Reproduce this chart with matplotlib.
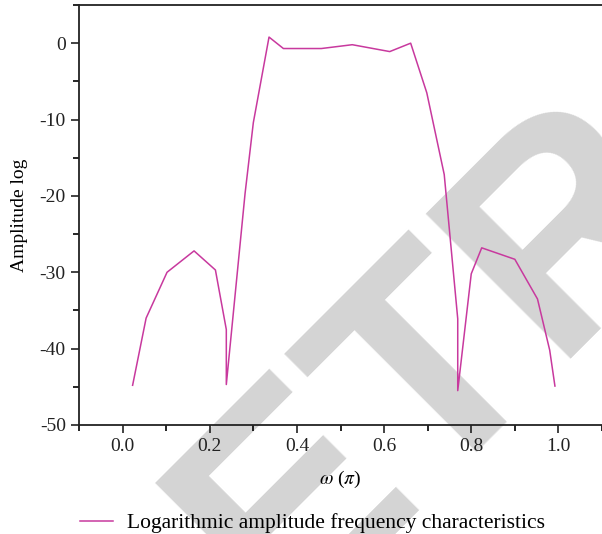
import matplotlib
matplotlib.use("Agg")
import matplotlib.pyplot as plt
from matplotlib.ticker import MultipleLocator

plt.rcParams['font.family'] = ['Liberation Serif', 'DejaVu Serif']
plt.rcParams['mathtext.fontset'] = 'stix'

# frequency (units of pi) and log amplitude
omega = [0.023, 0.054, 0.102, 0.164, 0.213, 0.238, 0.238, 0.281, 0.300,
         0.336, 0.369, 0.456, 0.527, 0.613, 0.661, 0.698, 0.738, 0.769,
         0.769, 0.800, 0.824, 0.900, 0.952, 0.980, 0.992]
amp_log = [-44.8, -36.0, -30.0, -27.2, -29.7, -37.5, -44.7, -19.7, -10.4,
           0.8, -0.7, -0.7, -0.2, -1.1, 0.0, -6.5, -17.2, -36.1,
           -45.5, -30.2, -26.8, -28.3, -33.5, -40.2, -44.9]

fig = plt.figure(figsize=(6.02, 5.34), dpi=100)
ax = fig.add_axes([79/602, 1 - 425/534, 1 - 79/602, (425 - 5)/534])
ax.patch.set_alpha(0)
ax.set_zorder(1)

# watermark behind the axes
fig.text(725/602, 1 - 75/534, "RETRACTED", family='Liberation Sans',
         weight='bold', fontsize=215, color='#d4d4d4', rotation=45,
         ha='center', va='center', rotation_mode='anchor', zorder=0)

ax.plot(omega, amp_log, color='#c8399e', lw=1.1,
        label='Logarithmic amplitude frequency characteristics')

ax.set_xlim(-0.1, 1.1)
ax.set_ylim(-50, 5)
ax.xaxis.set_minor_locator(MultipleLocator(0.1))
ax.yaxis.set_minor_locator(MultipleLocator(5))
ax.set_xticks([0.0, 0.2, 0.4, 0.6, 0.8, 1.0])
ax.set_xticklabels(['0.0', '0.2', '0.4', '0.6', '0.8', '1.0'])
ax.set_yticks([0, -10, -20, -30, -40, -50])
ax.set_yticklabels(['0', '-10', '-20', '-30', '-40', '-50'])
ax.tick_params(which='major', direction='out', length=6, width=1.2, labelsize=14, colors='#222222')
ax.tick_params(which='minor', direction='out', length=4, width=1.2)
ax.spines['right'].set_visible(False)
for s in ['left', 'bottom', 'top']:
    ax.spines[s].set_linewidth(1.3)
    ax.spines[s].set_color('#222222')

ax.set_xlabel(r'$\omega$ ($\pi$)', fontsize=14, labelpad=10)
ax.set_ylabel('Amplitude log', fontsize=14, labelpad=8)

ax.legend(loc='upper left', bbox_to_anchor=(-0.0145, -0.19), frameon=False,
          fontsize=15.5, handlelength=1.55, handletextpad=0.65, borderaxespad=0)

fig.savefig('out.png', dpi=100)
